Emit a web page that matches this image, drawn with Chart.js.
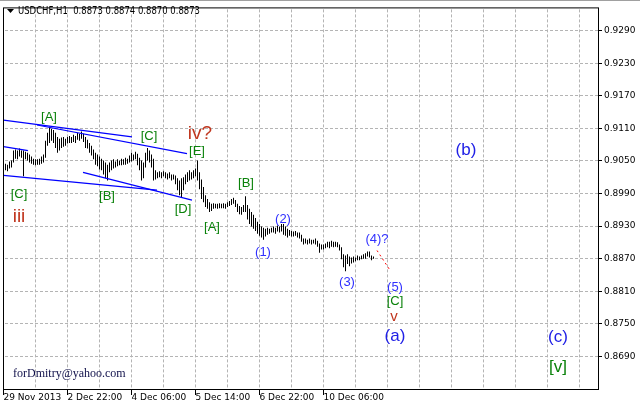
<!DOCTYPE html>
<html><head><meta charset="utf-8">
<script src="https://cdn.jsdelivr.net/npm/chart.js@4/dist/chart.umd.min.js"></script>
<style>html,body{margin:0;padding:0;background:#fff;}canvas{display:block}</style>
</head><body>
<canvas id="c" width="640" height="406"></canvas>
<script>
// ---- data (USDCHF H1 bars, left to right) ----
const highs = [
0.9042,0.9045,0.9043,0.9049,0.9051,0.9069,0.9071,0.9069,0.9073,0.9069,
0.9069,0.9067,0.9065,0.9062,0.9058,0.9054,0.9053,0.9053,0.9054,0.9058,
0.9062,0.9087,0.9102,0.9113,0.9109,0.9107,0.9102,0.9094,0.9091,0.9093,
0.9094,0.9091,0.9094,0.9096,0.9094,0.9098,0.9096,0.9102,0.9100,0.9104,
0.9100,0.9094,0.9089,0.9083,0.9078,0.9071,0.9065,0.9062,0.9058,0.9054,
0.9051,0.9047,0.9043,0.9047,0.9051,0.9053,0.9049,0.9053,0.9051,0.9054,
0.9053,0.9056,0.9054,0.9060,0.9065,0.9062,0.9067,0.9063,0.9056,0.9051,
0.9047,0.9065,0.9074,0.9069,0.9062,0.9054,0.9033,0.9029,0.9031,0.9029,
0.9031,0.9029,0.9027,0.9029,0.9025,0.9025,0.9023,0.9018,0.9014,0.9018,
0.9020,0.9025,0.9029,0.9033,0.9029,0.9033,0.9036,0.9051,0.9029,0.9016,
0.9002,0.8987,0.8980,0.8974,0.8971,0.8972,0.8971,0.8971,0.8972,0.8971,
0.8972,0.8971,0.8974,0.8976,0.8980,0.8982,0.8978,0.8971,0.8967,0.8965,
0.8969,0.8985,0.8969,0.8962,0.8956,0.8951,0.8945,0.8938,0.8934,0.8929,
0.8927,0.8925,0.8927,0.8925,0.8927,0.8929,0.8927,0.8931,0.8929,0.8934,
0.8934,0.8929,0.8925,0.8923,0.8921,0.8920,0.8921,0.8918,0.8918,0.8914,
0.8907,0.8907,0.8905,0.8907,0.8905,0.8905,0.8907,0.8903,0.8898,0.8896,
0.8896,0.8898,0.8901,0.8901,0.8903,0.8901,0.8901,0.8900,0.8896,0.8891,
0.8878,0.8876,0.8878,0.8874,0.8872,0.8874,0.8872,0.8876,0.8874,0.8876,
0.8878,0.8880,0.8883,0.8883,0.8876,0.8874];
const lows = [
0.9029,0.9033,0.9031,0.9036,0.9038,0.9047,0.9054,0.9053,0.9058,0.9056,
0.9022,0.9053,0.9051,0.9047,0.9045,0.9043,0.9042,0.9043,0.9043,0.9045,
0.9047,0.9056,0.9078,0.9083,0.9087,0.9083,0.9074,0.9065,0.9069,0.9074,
0.9076,0.9078,0.9082,0.9083,0.9083,0.9085,0.9083,0.9089,0.9087,0.9091,
0.9085,0.9074,0.9073,0.9065,0.9060,0.9053,0.9043,0.9040,0.9034,0.9033,
0.9025,0.9018,0.9014,0.9029,0.9033,0.9036,0.9038,0.9040,0.9042,0.9042,
0.9043,0.9043,0.9045,0.9047,0.9049,0.9051,0.9053,0.9042,0.9033,0.9014,
0.9018,0.9038,0.9051,0.9047,0.9038,0.9014,0.9016,0.9018,0.9020,0.9018,
0.9022,0.9018,0.9016,0.9018,0.9014,0.9016,0.9007,0.8996,0.8987,0.8982,
0.8996,0.9007,0.9011,0.9014,0.9016,0.9018,0.9022,0.9014,0.8998,0.8980,
0.8974,0.8965,0.8962,0.8956,0.8958,0.8962,0.8963,0.8962,0.8963,0.8963,
0.8963,0.8962,0.8965,0.8967,0.8969,0.8971,0.8965,0.8956,0.8952,0.8951,
0.8956,0.8956,0.8942,0.8934,0.8929,0.8925,0.8921,0.8916,0.8912,0.8909,
0.8905,0.8911,0.8914,0.8916,0.8918,0.8918,0.8916,0.8920,0.8918,0.8920,
0.8914,0.8912,0.8909,0.8912,0.8911,0.8911,0.8912,0.8909,0.8907,0.8901,
0.8896,0.8898,0.8896,0.8898,0.8896,0.8898,0.8896,0.8892,0.8881,0.8887,
0.8887,0.8889,0.8891,0.8889,0.8892,0.8891,0.8892,0.8891,0.8885,0.8869,
0.8854,0.8847,0.8860,0.8856,0.8861,0.8863,0.8865,0.8867,0.8867,0.8869,
0.8870,0.8870,0.8874,0.8872,0.8867,0.8870];

const yTicks = [0.8690,0.8750,0.8810,0.8870,0.8930,0.8990,0.9050,0.9110,0.9170,0.9230,0.9290];
const xGridBars = [16,32,48,64,80,96,112,128,144,160,176,192,208,224,240,256,272,288];
const xLabelBars = [0,32,64,96,128,160];
const xLabelTexts = ['29 Nov 2013','2 Dec 22:00','4 Dec 06:00','5 Dec 14:00','6 Dec 22:00','10 Dec 06:00'];

const headerSymbol = 'USDCHF,H1';
const headerOHLC = ['0.8873','0.8874','0.8870','0.8873'];

// trend lines: [barA, priceA, barB, priceB]
const trendLines = [
  [0, 0.91253, 64.25, 0.90944],
  [16.75, 0.91162, 91.75, 0.90634],
  [0, 0.90762, 12.25, 0.90689],
  [0, 0.90234, 76.75, 0.89961],
  [39.75, 0.90288, 94.25, 0.89779]
];
const forecastLine = [186.75, 0.88851, 193.25, 0.88487];

// wave labels: [text, bar, price, kind]
const waveLabels = [
  ['[A]', 22.75, 0.91307, 'g'],
  ['[C]', 7.75, 0.89888, 'g'],
  ['iii', 7.75, 0.89469, 'rL'],
  ['[B]', 51.75, 0.89852, 'g'],
  ['[C]', 72.75, 0.90944, 'g'],
  ['iv?', 98.25, 0.90998, 'rL'],
  ['[E]', 96.75, 0.90671, 'g'],
  ['[D]', 89.75, 0.89615, 'g'],
  ['[A]', 104.25, 0.89269, 'g'],
  ['[B]', 121.25, 0.90088, 'g'],
  ['(1)', 129.75, 0.88814, 'b'],
  ['(2)', 139.75, 0.89415, 'b'],
  ['(3)', 171.75, 0.88268, 'b'],
  ['(4)?', 186.75, 0.89051, 'b'],
  ['(5)', 195.75, 0.88177, 'b'],
  ['[C]', 195.75, 0.87904, 'g'],
  ['v', 195.25, 0.87631, 'r'],
  ['(a)', 195.75, 0.87267, 'bL'],
  ['(b)', 231.25, 0.90689, 'bL'],
  ['(c)', 277.25, 0.87249, 'bL'],
  ['[v]', 277.25, 0.86703, 'gL']
];

const styles = {
  g:  {color:'#0a820a', font:'13px "Liberation Sans", Arial, sans-serif'},
  gL: {color:'#0a820a', font:'17px "Liberation Sans", Arial, sans-serif'},
  b:  {color:'#3030ff', font:'13px "Liberation Sans", Arial, sans-serif'},
  bL: {color:'#2020e6', font:'17px "Liberation Sans", Arial, sans-serif'},
  r:  {color:'#c0361e', font:'15px "Liberation Sans", Arial, sans-serif'},
  rL: {color:'#c0361e', font:'19px "Liberation Sans", Arial, sans-serif'}
};
const FONT = '"DejaVu Sans", Verdana, sans-serif';

const datasets = [{
  type:'bar',
  data: highs.map((h,i)=>({x:i, y:[lows[i], h]})),
  backgroundColor:'#000', borderWidth:0, barThickness:1, inflateAmount:0, grouped:false, order:2
}];
trendLines.forEach(l => datasets.push({
  type:'line', data:[{x:l[0],y:l[1]},{x:l[2],y:l[3]}],
  borderColor:'#0000ff', borderWidth:1.2, pointRadius:0, fill:false, order:1
}));
datasets.push({
  type:'line', data:[{x:forecastLine[0],y:forecastLine[1]},{x:forecastLine[2],y:forecastLine[3]}],
  borderColor:'#ff0000', borderWidth:1, borderDash:[2,3], pointRadius:0, fill:false, order:1
});

const gridDash = {
  id:'gridDash',
  beforeDatasetsDraw(chart){
    const ctx = chart.ctx, xs = chart.scales.x, ys = chart.scales.y, a = chart.chartArea;
    ctx.save();
    ctx.fillStyle = '#b4b4b4';
    // dashed grid drawn as 1px rects (3 on, 2 off)
    xGridBars.forEach(v => {
      const px = Math.floor(xs.getPixelForValue(v));
      for (let y = a.top + 2; y < a.bottom; y += 5) ctx.fillRect(px, y, 1, Math.min(3, a.bottom - y));
    });
    yTicks.forEach(v => {
      const py = Math.floor(ys.getPixelForValue(v));
      for (let x = a.left + 2; x < a.right; x += 5) ctx.fillRect(x, py, Math.min(3, a.right - x), 1);
    });
    ctx.restore();
  }
};

const overlay = {
  id:'overlay',
  afterDatasetsDraw(chart){
    const ctx = chart.ctx, xs = chart.scales.x, ys = chart.scales.y, a = chart.chartArea;
    ctx.save();
    ctx.textAlign = 'center'; ctx.textBaseline = 'middle';
    waveLabels.forEach(w => {
      const st = styles[w[3]];
      ctx.font = st.font; ctx.fillStyle = st.color;
      ctx.fillText(w[0], xs.getPixelForValue(w[1]), ys.getPixelForValue(w[2]));
    });
    // watermark
    ctx.textAlign = 'left';
    ctx.font = '12px "Liberation Serif", "Times New Roman", serif';
    ctx.fillStyle = '#10104a';
    ctx.fillText('forDmitry@yahoo.com', 13, 374);
    // header
    ctx.fillStyle = '#000';
    ctx.beginPath(); ctx.moveTo(7,9); ctx.lineTo(14,9); ctx.lineTo(10.5,13); ctx.closePath(); ctx.fill();
    ctx.font = '10px ' + FONT;
    const txt = headerSymbol + '  ' + headerOHLC.join(' ');
    const w = ctx.measureText(txt).width;
    ctx.save(); ctx.translate(18, 11); ctx.scale(182 / w, 1.05); ctx.fillText(txt, 0, 0); ctx.restore();
    // frame
    ctx.strokeStyle = '#000'; ctx.lineWidth = 1;
    ctx.strokeRect(a.left + 0.5, a.top + 0.5, a.right - a.left, a.bottom - a.top);
    ctx.strokeStyle = '#a0a0a0';
    ctx.beginPath(); ctx.moveTo(0,0.5); ctx.lineTo(640,0.5); ctx.stroke();
    ctx.restore();
  }
};

new Chart(document.getElementById('c'), {
  type:'bar',
  data:{datasets},
  plugins:[gridDash, overlay],
  options:{
    responsive:false, animation:false, devicePixelRatio:1,
    layout:{padding:{left:3, top:3, right:0, bottom:0}, autoPadding:false},
    plugins:{legend:{display:false}, tooltip:{enabled:false}},
    scales:{
      x:{
        type:'linear', min:-0.25, max:297.25, offset:false,
        afterBuildTicks: s => { s.ticks = xLabelBars.map(v=>({value:v})); },
        afterFit: s => { s.height = 17; },
        grid:{drawOnChartArea:false, tickLength:6, tickColor:'#000', offset:false},
        border:{display:false},
        ticks:{autoSkip:false, maxRotation:0, minRotation:0, align:'start', padding:-3,
          color:'#000', font:{family:FONT, size:9},
          callback: v => { const k = xLabelBars.indexOf(v); return k >= 0 ? xLabelTexts[k] : ''; }}
      },
      y:{
        type:'linear', position:'right', min:0.86299, max:0.93328,
        afterBuildTicks: s => { s.ticks = yTicks.map(v=>({value:v})); },
        afterFit: s => { s.width = 42; },
        grid:{drawOnChartArea:false, tickLength:4, tickColor:'#000'},
        border:{display:false},
        ticks:{padding:2, color:'#000', font:{family:FONT, size:9}, callback: v => Number(v).toFixed(4)}
      }
    }
  }
});
</script>
</body></html>
